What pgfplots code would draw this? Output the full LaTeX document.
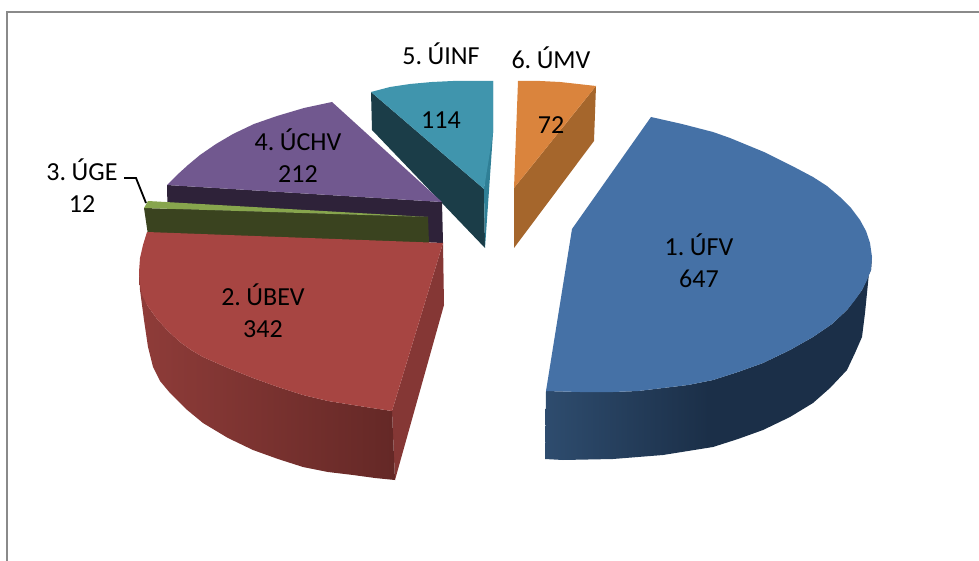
\documentclass[border=0pt]{standalone}
\usepackage{pgfplots}
\pgfplotsset{compat=1.18}
\usepackage{fontspec}
\setmainfont[WordSpace=0.6]{Carlito}

\definecolor{blueTop}{HTML}{4571A6}
\definecolor{blueSideA}{HTML}{2E4C6E}
\definecolor{blueSideB}{HTML}{1B2F48}
\definecolor{redTop}{HTML}{A74542}
\definecolor{redCut}{HTML}{853735}
\definecolor{redSideA}{HTML}{8F3C39}
\definecolor{redSideB}{HTML}{642826}
\definecolor{greenTop}{HTML}{87A54D}
\definecolor{greenSide}{HTML}{3A431F}
\definecolor{purpleTop}{HTML}{71588F}
\definecolor{purpleSide}{HTML}{2E2239}
\definecolor{tealTop}{HTML}{4095AD}
\definecolor{tealThin}{HTML}{2F7F96}
\definecolor{tealSide}{HTML}{1B3D48}
\definecolor{orangeTop}{HTML}{DA843D}
\definecolor{orangeSide}{HTML}{A5662C}
\definecolor{frameGray}{HTML}{8A8A8A}

\tikzset{lab/.style={font=\fontsize{26}{32}\selectfont, align=center, text=black, inner sep=0pt}}

\begin{document}
\begin{tikzpicture}
\begin{axis}[
    scale only axis,
    width=979pt,
    height=561pt,
    xmin=0, xmax=979,
    ymin=0, ymax=561,
    y dir=reverse,
    hide axis,
    clip=true,
    every axis plot/.append style={no markers, line width=0pt, draw=none},
]
% keeps the whole canvas in the page
\path (axis cs:0,0) rectangle (axis cs:979,561);

% frame
\addplot[draw=frameGray, line width=1.5pt] coordinates {(7,561) (7,12) (979,12)};

% 5. teal slice
\addplot[fill=tealSide] coordinates {(371,92) (484,189) (485,248) (372,130)} -- cycle;
\addplot[fill=tealThin] coordinates {(493,81) (493,133) (485,248) (484,189)} -- cycle;
\addplot[fill=tealTop] coordinates {(371,92) (390,87) (410,84) (432,82) (453,81) (473,81) (493,81) (493,133) (484,189)} -- cycle;

% 6. orange slice
\addplot[fill=orangeSide] coordinates {(596,86) (594,141) (514,248) (514,188)} -- cycle;
\addplot[fill=orangeTop] coordinates {(518,81) (540,81) (560,82) (578,84) (596,86) (514,188)} -- cycle;

% 4. purple slice
\addplot[fill=purpleSide] coordinates {(167,185) (442,202) (443,243) (168,232)} -- cycle;
\addplot[fill=purpleTop] coordinates {(332,102) (304,108) (277,116) (254,124) (233,134) (216,144) (200,155) (188,165) (177,175) (167,185) (442,202)} -- cycle;

% 3. green slice
\addplot[fill=greenSide] coordinates {(144,208) (428,217) (429,243) (148,235)} -- cycle;
\addplot[fill=greenTop] coordinates {(144,208) (148,201) (428,217)} -- cycle;

% 2. red slice
\addplot[fill=redCut] coordinates {(443,243) (444,305) (395,480) (392,411)} -- cycle;
\addplot[draw=none, left color=redSideA, right color=redSideB] coordinates {
    (139,272) (140,290) (144,320) (148,347) (153,367) (160,381) (170,393) (186,409) (203,423)
    (228,438) (253,450) (278,459) (303,467) (328,472) (353,475) (375,478) (395,480)
    (392,411) (372,408) (353,405) (328,401) (303,395) (278,387) (253,378) (228,368)
    (203,357) (191,350) (180,342) (168,331) (157,319) (147,305)
} -- cycle;
\addplot[fill=redTop] coordinates {
    (147,232) (143,245) (140,258) (139,272) (140,285) (142,295) (147,305) (157,319) (168,331) (180,342) (191,350)
    (203,357) (228,368) (253,378) (278,387) (303,395) (328,401) (353,405) (372,408)
    (392,411) (443,243)
} -- cycle;

% 1. blue slice
\addplot[draw=none, left color=blueSideA, right color=blueSideB, middle color=blueSideB] coordinates {
    (872,257) (869,273) (865,313) (862,337) (855,353) (847,370) (830,388) (813,403)
    (790,417) (763,430) (738,439) (713,447) (688,451) (663,455) (638,457) (613,459)
    (563,460) (545,459) (546,391) (580,392) (613,392) (638,391) (663,388) (688,385)
    (713,380) (738,372) (763,363) (790,350) (813,337) (832,324) (847,310) (862,290)
    (871,270)
} -- cycle;
\addplot[fill=blueTop] coordinates {
    (651,117) (682,124) (713,132) (730,138) (747,145) (764,152) (780,160) (796,168) (813,177)
    (827,186) (840,197) (851,208) (860,220) (866,231) (870,243) (872,257) (871,270) (867,280)
    (862,290) (855,300) (847,310) (832,324) (813,337) (790,350)
    (763,363) (738,372) (713,380) (688,385) (663,388) (638,391) (613,392) (580,392)
    (546,391) (572,229)
} -- cycle;

% leader of the small slice
\addplot[draw=black, line width=1.8pt] coordinates {(124,178) (136,178) (146,203)};

\node[lab] at (axis cs:441,54) {5. ÚINF};
\node[lab] at (axis cs:551,58) {6. ÚMV};
\node[lab] at (axis cs:699,260.5) {1. ÚFV\\647};
\node[lab] at (axis cs:263,310.5) {2. ÚBEV\\342};
\node[lab] at (axis cs:82,185.5) {3. ÚGE\\12};
\node[lab] at (axis cs:298,155.5) {4. ÚCHV\\212};
\node[lab] at (axis cs:441,120) {114};
\node[lab] at (axis cs:551,125) {72};
\end{axis}
\end{tikzpicture}
\end{document}
